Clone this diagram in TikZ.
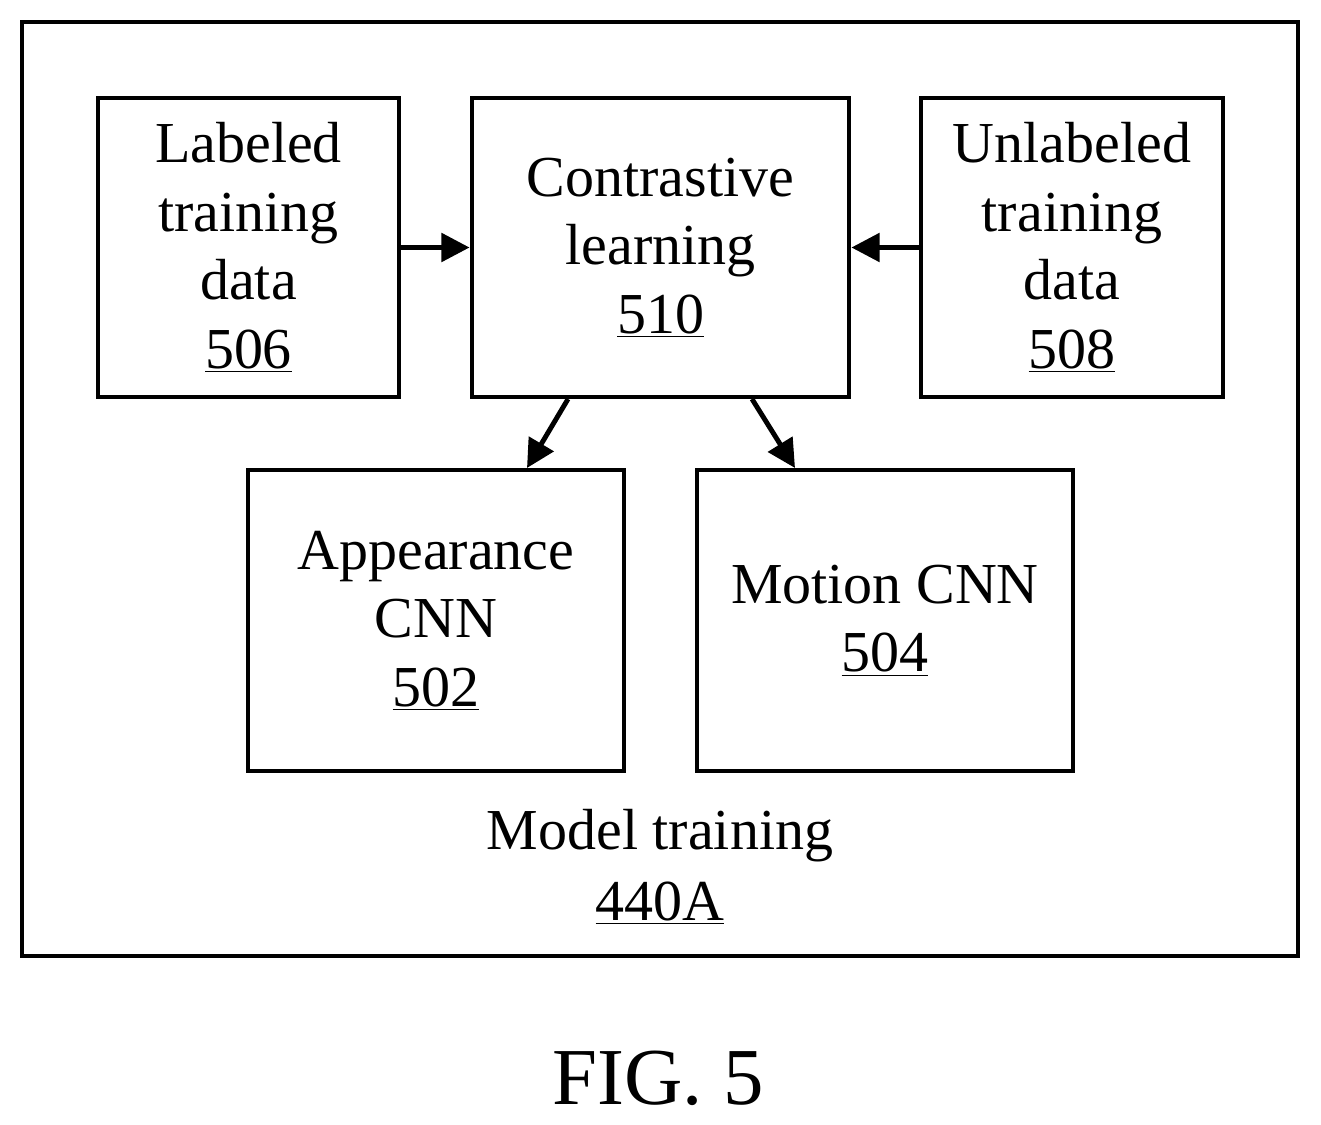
\documentclass[tikz,border=0pt]{standalone}
\usepackage{fontspec}
\setmainfont{Liberation Serif}
\usetikzlibrary{arrows.meta}

\tikzset{
  blk/.style={draw, line width=2.8pt, align=center, font=\fontsize{33}{39}\selectfont, inner sep=0pt},
  lbl/.style={font=\fontsize{33}{39}\selectfont},
  arr/.style={line width=2.8pt, -{Triangle[length=16pt,width=16pt]}}
}

\begin{document}
\begin{tikzpicture}[x=0.02cm, y=-0.02cm]
        \useasboundingbox (0,0) rectangle (1321,1125);

        \draw[line width=2.8pt] (22,22) rectangle (1298,956);

        \node[blk, minimum width=301*0.02cm, minimum height=299*0.02cm] (lab) at (248.5,247.5) {Labeled\\training\\data\\\underline{506}};
        \node[blk, minimum width=377*0.02cm, minimum height=299*0.02cm] (con) at (660.5,247.5) {Contrastive\\learning\\\underline{510}};
        \node[blk, minimum width=302*0.02cm, minimum height=299*0.02cm] (unl) at (1072,247.5) {Unlabeled\\training\\data\\\underline{508}};
        \node[blk, minimum width=376*0.02cm, minimum height=301*0.02cm] (app) at (436,620.5) {Appearance\\CNN\\\underline{502}};
        \node[blk, minimum width=376*0.02cm, minimum height=301*0.02cm] (mot) at (885,620.5) {Motion CNN\\\underline{504}};

        % model label and caption
        \node[lbl] (mt) at (660,836) {Model training};
        \node[lbl] (mtn) at (660,903) {\underline{440A}};
        \node[font=\fontsize{46}{50}\selectfont] (fig) at (658,1078) {FIG. 5};

        \coordinate (c1) at (568,399);
        \coordinate (c2) at (752,399);
        \coordinate (a1) at (527,468);
        \coordinate (m1) at (795,468);

        \draw[arr] (lab.east) -- (con.west);
        \draw[arr] (unl.west) -- (con.east);
        \draw[arr] (c1) -- (a1);
        \draw[arr] (c2) -- (m1);
\end{tikzpicture}
\end{document}
